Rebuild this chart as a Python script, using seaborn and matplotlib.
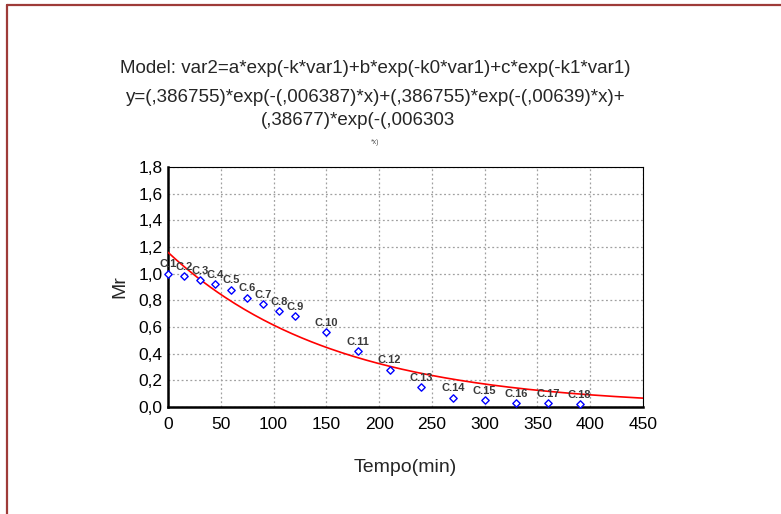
import numpy as np
import pandas as pd
import matplotlib
matplotlib.use("Agg")
import matplotlib.pyplot as plt
from matplotlib.lines import Line2D
from matplotlib.ticker import FuncFormatter
import seaborn as sns

sns.set_style("white")
plt.rcParams["font.family"] = ["Liberation Sans", "DejaVu Sans"]

# ---- data ----
tempo = [0, 15, 30, 45, 60, 75, 90, 105, 120, 150, 180, 210, 240, 270, 300, 330, 360, 390]
mr = [1.00, 0.98, 0.95, 0.92, 0.88, 0.82, 0.77, 0.72, 0.68, 0.56, 0.42, 0.28, 0.15, 0.07, 0.05, 0.03, 0.03, 0.02]
case_labels = ["C.%d" % (i + 1) for i in range(len(tempo))]

# fitted model parameters (printed in the chart title)
amps = [0.386755, 0.386755, 0.38677]
rates = [0.006387, 0.00639, 0.006303]

title_lines = [
    "Model: var2=a*exp(-k*var1)+b*exp(-k0*var1)+c*exp(-k1*var1)",
    "y=(,386755)*exp(-(,006387)*x)+(,386755)*exp(-(,00639)*x)+",
    "(,38677)*exp(-(,006303",
]

pts = pd.DataFrame({"Tempo": tempo, "Mr": mr, "lab": case_labels})
xfit = np.linspace(0, 450, 200)
yfit = sum(a * np.exp(-k * xfit) for a, k in zip(amps, rates))
fit = pd.DataFrame({"Tempo": xfit, "Mr": yfit})

fig = plt.figure(figsize=(7.81, 5.14), dpi=100)
ax = fig.add_axes([0.2151, 0.2082, 0.6082, 0.4669])

ax.grid(True, color="#a0a0a0", linestyle=(0, (1.5, 2)), linewidth=0.9)
ax.set_axisbelow(True)

sns.lineplot(data=fit, x="Tempo", y="Mr", color="red", linewidth=1.2, ax=ax, zorder=3)
sns.scatterplot(data=pts, x="Tempo", y="Mr", marker="D", s=14, facecolor="white",
                edgecolor="blue", linewidth=1.0, ax=ax, zorder=4, clip_on=False)

for x, y, t in zip(tempo, mr, case_labels):
    ax.annotate(t, (x, y), xytext=(0, 3), textcoords="offset points", ha="center",
                va="bottom", fontsize=8, fontweight="bold", color="#3a3a3a", zorder=5)

ax.set_xlim(0, 450)
ax.set_ylim(0, 1.8)
ax.set_xticks(np.arange(0, 451, 50))
ax.set_yticks(np.arange(0, 1.81, 0.2))
ax.yaxis.set_major_formatter(FuncFormatter(lambda v, p: ("%.1f" % v).replace(".", ",")))
ax.tick_params(direction="in", length=3, width=1, labelsize=12.5, colors="black", pad=4)
ax.tick_params(axis="x", pad=7)

for s in ["left", "bottom"]:
    ax.spines[s].set_linewidth(1.8)
    ax.spines[s].set_color("black")
for s in ["top", "right"]:
    ax.spines[s].set_linewidth(0.8)
    ax.spines[s].set_color("black")

ax.set_xlabel("Tempo(min)", fontsize=14, labelpad=20)
ax.set_ylabel("Mr", fontsize=14, labelpad=7)

# title block
fig.text(0.481, 0.866, title_lines[0], ha="center", va="center", fontsize=13.5)
fig.text(0.481, 0.810, title_lines[1], ha="center", va="center", fontsize=13.5)
fig.text(0.458, 0.765, title_lines[2], ha="center", va="center", fontsize=13.5)
fig.text(0.48, 0.722, "*x)", ha="center", va="center", fontsize=5, color="#555555")

# outer frame (left and top edges only)
frame_col = "#9e3b38"
fig.add_artist(Line2D([0.009, 0.009], [0, 0.991], color=frame_col, linewidth=1.6))
fig.add_artist(Line2D([0.009, 1.0], [0.991, 0.991], color=frame_col, linewidth=1.6))

fig.savefig("out.png", dpi=100)
